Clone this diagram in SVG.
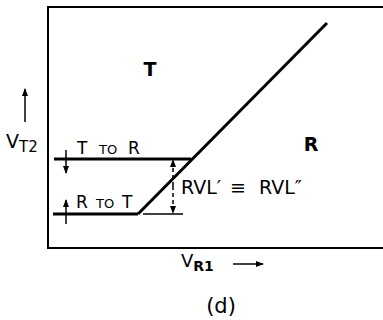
<svg xmlns="http://www.w3.org/2000/svg" width="383" height="320" viewBox="0 0 383 320">
<style>
.t{font-family:"DejaVu Sans","Liberation Sans",sans-serif;fill:#000}
.thick{stroke:#000;stroke-width:3;fill:none}
.thin{stroke:#000;stroke-width:1.5;fill:none}
.frame{stroke:#000;stroke-width:2;fill:none}
</style>
<defs>
<marker id="ah" markerWidth="8" markerHeight="8" refX="7" refY="4" orient="auto" markerUnits="userSpaceOnUse">
<path d="M0,1 L8,4 L0,7 Z" fill="#000"/>
</marker>
</defs>
<g id="frame">
<path class="frame" d="M383,7 H48 V248 H383"/>
</g>
<g id="connectors">
<line class="thick" x1="54" y1="159" x2="191" y2="159"/>
<line class="thick" x1="53" y1="214" x2="138" y2="214"/>
<line class="thick" x1="138" y1="214" x2="327" y2="23"/>
<line class="thin" x1="143" y1="214" x2="183" y2="214"/>
<line class="thin" x1="66" y1="150" x2="66" y2="159"/>
<line class="thin" x1="66" y1="159" x2="66" y2="173" marker-end="url(#ah)"/>
<line class="thin" x1="66" y1="214" x2="66" y2="200" marker-end="url(#ah)"/>
<line class="thin" x1="66" y1="214" x2="66" y2="224"/>
<line class="thin" x1="173" y1="186" x2="173" y2="160" stroke-dasharray="4,3" marker-end="url(#ah)"/>
<line class="thin" x1="173" y1="186" x2="173" y2="213" stroke-dasharray="4,3" marker-end="url(#ah)"/>
<line class="thin" x1="25" y1="122" x2="25" y2="89" stroke-width="2" marker-end="url(#ah)"/>
<line class="thin" x1="233" y1="264" x2="263" y2="264" stroke-width="2" marker-end="url(#ah)"/>
</g>
<g id="label-T"><text class="t" x="150" y="76" font-size="19" font-weight="bold" text-anchor="middle">T</text></g>
<g id="label-R"><text class="t" x="311" y="151" font-size="19" font-weight="bold" text-anchor="middle">R</text></g>
<g id="label-VT2"><text class="t" x="6" y="148" font-size="19">V<tspan font-size="15" dy="4">T2</tspan></text></g>
<g id="label-TtoR"><text class="t" y="154" font-size="17"><tspan x="77">T</tspan><tspan x="99" font-size="13">TO</tspan><tspan x="128">R</tspan></text></g>
<g id="label-RtoT"><text class="t" y="208" font-size="17"><tspan x="76">R</tspan><tspan x="96" font-size="13">TO</tspan><tspan x="122">T</tspan></text></g>
<g id="label-RVL"><text class="t" y="194" font-size="19"><tspan x="181">RVL′</tspan><tspan x="230">≡</tspan><tspan x="259">RVL″</tspan></text></g>
<g id="label-VR1"><text class="t" x="181" y="267" font-size="18">V<tspan font-size="14" font-weight="bold" dy="4">R1</tspan></text></g>
<g id="label-d"><text class="t" x="221" y="313" font-size="21" text-anchor="middle">(d)</text></g>
</svg>
